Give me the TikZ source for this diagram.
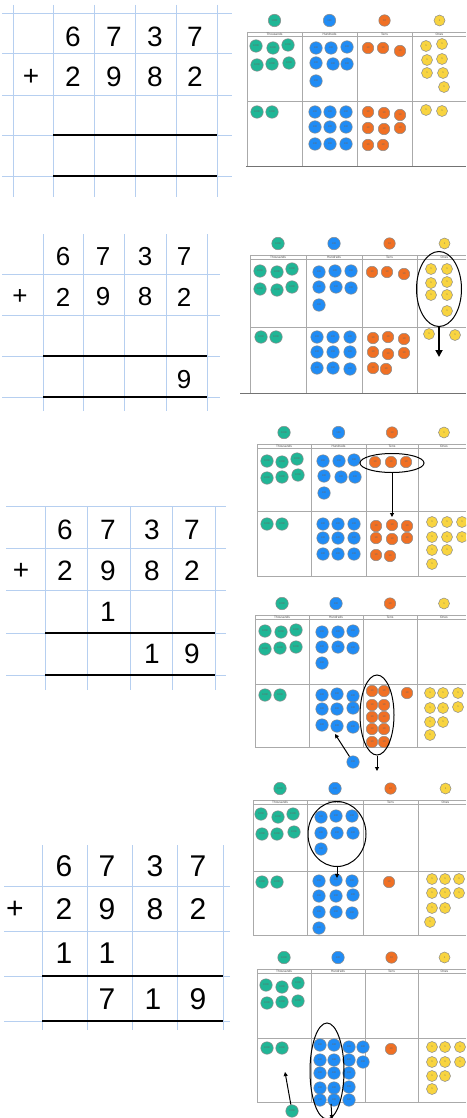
\documentclass[tikz,border=0pt]{standalone}
\usepackage{fontspec}
\setmainfont{Liberation Sans}
\usetikzlibrary{shapes.geometric,arrows.meta}
\definecolor{thc}{RGB}{32,182,150}
\definecolor{huc}{RGB}{32,140,245}
\definecolor{tec}{RGB}{240,112,36}
\definecolor{onc}{RGB}{248,212,64}
\definecolor{gridblue}{RGB}{182,207,240}
\definecolor{pgray}{RGB}{170,170,170}
\tikzset{
 gl/.style={draw=gridblue,line width=0.9pt},
 sl/.style={draw=black,line width=1.5pt},
 dg/.style={inner sep=0pt,font=\fontsize{#1}{#1}\selectfont},
 pl/.style={draw=pgray,line width=0.6pt},
 hdr/.style={inner sep=0pt,font=\fontsize{3.2}{3.2}\selectfont,text=black!70},
 cbase/.style={circle,draw=black!45,line width=0.5pt,inner sep=0pt,font=\fontsize{2.6}{2.6}\selectfont,text=black!60},
 cT/.style={cbase,fill=thc,minimum size=12.5pt},
 cH/.style={cbase,fill=huc,minimum size=12.5pt},
 cE/.style={cbase,fill=tec,minimum size=11.5pt},
 cO/.style={cbase,fill=onc,minimum size=11pt},
 ring/.style={ellipse,draw=black,line width=1pt,inner sep=0pt},
 thinarr/.style={draw=black,line width=1pt,-{Triangle[length=4pt,width=4pt]}},
 thickarr/.style={draw=black,line width=2pt,-{Triangle[length=7pt,width=7pt]}},
 baseline/.style={draw=black!55,line width=0.9pt},
}
\newcommand\ctrs[4]{\foreach \px/\py [count=\ci] in {#4} {\node[#1] (#3\ci) at (\px,\py) {#2};}}
\newcommand\pframe[9]{%
 \draw[pl] (#2,#7) -- (#6,#7);
 \draw[pl] (#2,#7+4.5) -- (#6,#7+4.5);
 \draw[pl] (#2,#8) -- (#6,#8);
 \draw[pl] (#2,#9) -- (#6,#9);
 \foreach \cx in {#2,#3,#4,#5} {\draw[pl] (\cx,#7) -- (\cx,#9);}
 \node[hdr] (#1l1) at ({(#2+#3)/2},#7+2.3) {Thousands};
 \node[hdr] (#1l2) at ({(#3+#4)/2},#7+2.3) {Hundreds};
 \node[hdr] (#1l3) at ({(#4+#5)/2},#7+2.3) {Tens};
 \node[hdr] (#1l4) at ({#5+(#5-#4)/2},#7+2.3) {Ones};
 \node[cT] (#1k1) at ({(#2+#3)/2},#7-11.5) {1000};
 \node[cH] (#1k2) at ({(#3+#4)/2},#7-11.5) {100};
 \node[cE] (#1k3) at ({(#4+#5)/2},#7-11.5) {10};
 \node[cO] (#1k4) at ({#5+(#5-#4)/2},#7-11.5) {1};
}
\begin{document}
\begin{tikzpicture}[x=1pt,y=-1pt]
\useasboundingbox (0,0) rectangle (466,1118);
\fill[white] (0,0) rectangle (466,1118);
\clip (0,0) rectangle (466,1118);

% ---------- Grid 1 ----------
\foreach \x in {13,53,94,135,176,217} {\draw[gl] (\x,5) -- (\x,197);}
\foreach \y in {13,53,95,135,176} {\draw[gl] (2,\y) -- (232,\y);}
\draw[sl] (53,135) -- (217,135);
\draw[sl] (53,176) -- (217,176);
\node[dg=28] (a1) at (73,37) {6};
\node[dg=28] (a2) at (114,37) {7};
\node[dg=28] (a3) at (155,37) {3};
\node[dg=28] (a4) at (195,37) {7};
\node[dg=28] (ap) at (31,77) {+};
\node[dg=28] (a5) at (73,77) {2};
\node[dg=28] (a6) at (114,77) {9};
\node[dg=28] (a7) at (155,77) {8};
\node[dg=28] (a8) at (195,77) {2};

% ---------- Grid 2 ----------
\foreach \x in {43,83,124,166,207} {\draw[gl] (\x,234) -- (\x,411);}
\foreach \y in {274,315,356,397} {\draw[gl] (2,\y) -- (220,\y);}
\draw[sl] (43,356) -- (207,356);
\draw[sl] (43,397) -- (207,397);
\node[dg=26] (b1) at (63,257) {6};
\node[dg=26] (b2) at (103,257) {7};
\node[dg=26] (b3) at (145,257) {3};
\node[dg=26] (b4) at (184,257) {7};
\node[dg=26] (bp) at (20,297) {+};
\node[dg=26] (b5) at (63,297) {2};
\node[dg=26] (b6) at (103,297) {9};
\node[dg=26] (b7) at (145,297) {8};
\node[dg=26] (b8) at (184,297) {2};
\node[dg=26] (b9) at (184,380) {9};

% ---------- Grid 3 ----------
\foreach \x in {45,87,130,172,215} {\draw[gl] (\x,506) -- (\x,690);}
\foreach \y in {506,548,590,633,675} {\draw[gl] (6,\y) -- (226,\y);}
\draw[sl] (45,633) -- (215,633);
\draw[sl] (45,675) -- (215,675);
\node[dg=28] (c1) at (65,530) {6};
\node[dg=28] (c2) at (108,530) {7};
\node[dg=28] (c3) at (152,530) {3};
\node[dg=28] (c4) at (192,530) {7};
\node[dg=28] (cp) at (21,571) {+};
\node[dg=28] (c5) at (65,571) {2};
\node[dg=28] (c6) at (108,571) {9};
\node[dg=28] (c7) at (152,571) {8};
\node[dg=28] (c8) at (192,571) {2};
\node[dg=28] (c9) at (108,612) {1};
\node[dg=28] (c10) at (152,654) {1};
\node[dg=28] (c11) at (192,654) {9};

% ---------- Grid 4 ----------
\foreach \x in {42,87,132,177,223} {\draw[gl] (\x,845) -- (\x,1030);}
\foreach \y in {886,931,976,1021} {\draw[gl] (4,\y) -- (230,\y);}
\draw[sl] (42,976) -- (223,976);
\draw[sl] (42,1021) -- (223,1021);
\node[dg=30] (d1) at (64,866) {6};
\node[dg=30] (d2) at (107,866) {7};
\node[dg=30] (d3) at (155,866) {3};
\node[dg=30] (d4) at (198,866) {7};
\node[dg=30] (dp) at (15,910) {+};
\node[dg=30] (d5) at (64,909) {2};
\node[dg=30] (d6) at (107,909) {9};
\node[dg=30] (d7) at (155,909) {8};
\node[dg=30] (d8) at (198,909) {2};
\node[dg=30] (d9) at (64,953) {1};
\node[dg=30] (d10) at (107,953) {1};
\node[dg=30] (d11) at (107,999) {7};
\node[dg=30] (d12) at (153,999) {1};
\node[dg=30] (d13) at (198,999) {9};

% ---------- Panel 1 ----------
\pframe{A}{247}{302}{357}{412}{466}{32}{101}{166}
\draw[baseline] (246,166) -- (466,166);
\ctrs{cT}{1000}{Ata}{256/46,273/48,288/45,257/65,272/64,289/63}
\ctrs{cH}{100}{Aha}{316/48,331/48,347/47,316/63,333/64,347/64,316/81}
\ctrs{cE}{10}{Aea}{368/48,383/48,400/51}
\ctrs{cO}{1}{Aoa}{426/46,442/44,427/60,442/59,427/73,443/73,444/87}
\ctrs{cT}{1000}{Atb}{257/112,272/112}
\ctrs{cH}{100}{Ahb}{315/112,330/112,346/112,315/127,330/127,346/127,315/144,330/144,346/144}
\ctrs{cE}{10}{Aeb}{368/112,384/113,400/115,368/128,384/129,400/128,368/145,383/145}
\ctrs{cO}{1}{Aob}{426/110,442/111}

% ---------- Panel 2 ----------
\pframe{B}{250}{306}{362}{417}{466}{255}{327}{393}
\draw[baseline] (240,393) -- (466,393);
\ctrs{cT}{1000}{Bta}{260/271,277/272,292/269,260/289,277/290,292/287}
\ctrs{cH}{100}{Bha}{319/272,335/271,351/271,319/287,336/287,351/288,319/305}
\ctrs{cE}{10}{Bea}{372/272,387/272,404/274}
\ctrs{cO}{1}{Boa}{431/269,447/269,431/283,447/282,431/295,447/295,447/311}
\ctrs{cT}{1000}{Btb}{261/337,276/337}
\ctrs{cH}{100}{Bhb}{317/337,333/337,350/337,317/352,333/352,350/352,317/368,333/368,350/369}
\ctrs{cE}{10}{Beb}{373/338,388/337,404/339,373/352,388/354,404/353,373/368,386/369}
\ctrs{cO}{1}{Bob}{429/334,455/335}
\node[ring,minimum width=45pt,minimum height=75pt] (Bring) at (439,289) {};
\coordinate (Btip) at (439,357);
\draw[thickarr] (Bring.south) -- (Btip);

% ---------- Panel 3 ----------
\pframe{C}{257}{311}{366}{418}{466}{444}{511}{576}
\ctrs{cT}{1000}{Cta}{267/461,282/462,297/459,267/478,282/477,298/475}
\ctrs{cH}{100}{Cha}{323/461,339/461,354/460,324/476,341/477,355/477,324/493}
\ctrs{cE}{10}{Cea}{375/462,391/462,406/462}
\ctrs{cT}{1000}{Ctb}{267/524,282/524}
\ctrs{cH}{100}{Chb}{323/524,338/524,354/524,323/538,338/538,354/538,323/554,338/554,354/554}
\ctrs{cE}{10}{Ceb}{376/526,392/525,407/526,376/538,392/539,407/538,376/555,390/556}
\ctrs{cO}{1}{Cob}{432/522,447/522,462/522,432/537,447/537,462/537,432/550,447/550,432/564}
\node[ring,minimum width=64pt,minimum height=19pt] (Cring) at (392,463) {};
\coordinate (Ctip) at (392,517);
\draw[thinarr] (Cring.south) -- (Ctip);

% ---------- Panel 4 ----------
\pframe{D}{255}{309}{363}{417}{466}{615}{684}{747}
\ctrs{cT}{1000}{Dta}{265/631,281/632,296/630,265/649,280/648,296/647}
\ctrs{cH}{100}{Dha}{322/632,338/632,353/631,322/647,338/647,353/648,322/663}
\ctrs{cT}{1000}{Dtb}{265/695,280/695}
\ctrs{cH}{100}{Dhb}{322/695,337/694,353/696,322/709,337/709,353/708,322/725,337/726,353/727}
\ctrs{cE}{10}{Deb}{372/691,384/691,372/705,384/705,372/717,384/717,372/729,384/729,372/742,384/742,407/693}
\ctrs{cO}{1}{Dob}{430/693,443/693,458/693,430/708,443/708,458/707,430/722,443/722,430/735}
\node[cH] (Dx) at (353,762) {100};
\coordinate (Dxt) at (335,734);
\draw[thinarr] (Dx) -- (Dxt);
\node[ring,minimum width=34pt,minimum height=80pt] (Dring) at (377,715) {};
\coordinate (Dtip) at (377,771);
\draw[thinarr] (Dring.south) -- (Dtip);

% ---------- Panel 5 ----------
\pframe{E}{253}{307}{363}{418}{466}{800}{871}{935}
\ctrs{cT}{1000}{Eta}{261/814,278/817,293/814,262/834,277/834,294/832}
\ctrs{cH}{100}{Eha}{321/817,336/816,352/816,321/833,337/833,353/833,321/849}
\ctrs{cT}{1000}{Etb}{262/882,277/882}
\ctrs{cH}{100}{Ehb}{319/881,336/880,352/881,319/896,336/896,353/895,319/912,336/912,352/913,319/928}
\ctrs{cE}{10}{Eeb}{389/882}
\ctrs{cO}{1}{Eob}{432/879,445/879,459/879,432/893,445/893,459/893,432/908,445/908,430/922}
\node[ring,minimum width=58pt,minimum height=65pt] (Ering) at (337,834) {};
\coordinate (Etip) at (337,878);
\draw[thinarr] (Ering.south) -- (Etip);

% ---------- Panel 6 ----------
\pframe{F}{257}{311}{365}{418}{466}{969}{1038}{1102}
\ctrs{cT}{1000}{Fta}{266/985,282/987,298/983,267/1003,282/1002,298/1001}
\ctrs{cT}{1000}{Ftb}{267/1048,282/1048}
\ctrs{cH}{100}{Fhb}{320/1045,334/1045,320/1060,334/1060,320/1073,334/1073,320/1088,334/1088,320/1100,334/1100,349/1047,349/1060,349/1073,349/1087,349/1100,363/1047,363/1062}
\ctrs{cE}{10}{Feb}{391/1049}
\ctrs{cO}{1}{Fob}{432/1047,445/1047,460/1047,432/1062,445/1062,460/1062,432/1076,445/1076,432/1089}
\node[ring,minimum width=34pt,minimum height=96pt] (Fring) at (327,1071) {};
\node[cT] (Fx) at (292,1111) {1000};
\coordinate (Fxt) at (285,1072);
\draw[thinarr] (Fx) -- (Fxt);
\coordinate (Ftail) at (331,1104);
\coordinate (Ftip) at (332,1119);
\draw[thinarr] (Ftail) -- (Ftip);
\end{tikzpicture}
\end{document}
